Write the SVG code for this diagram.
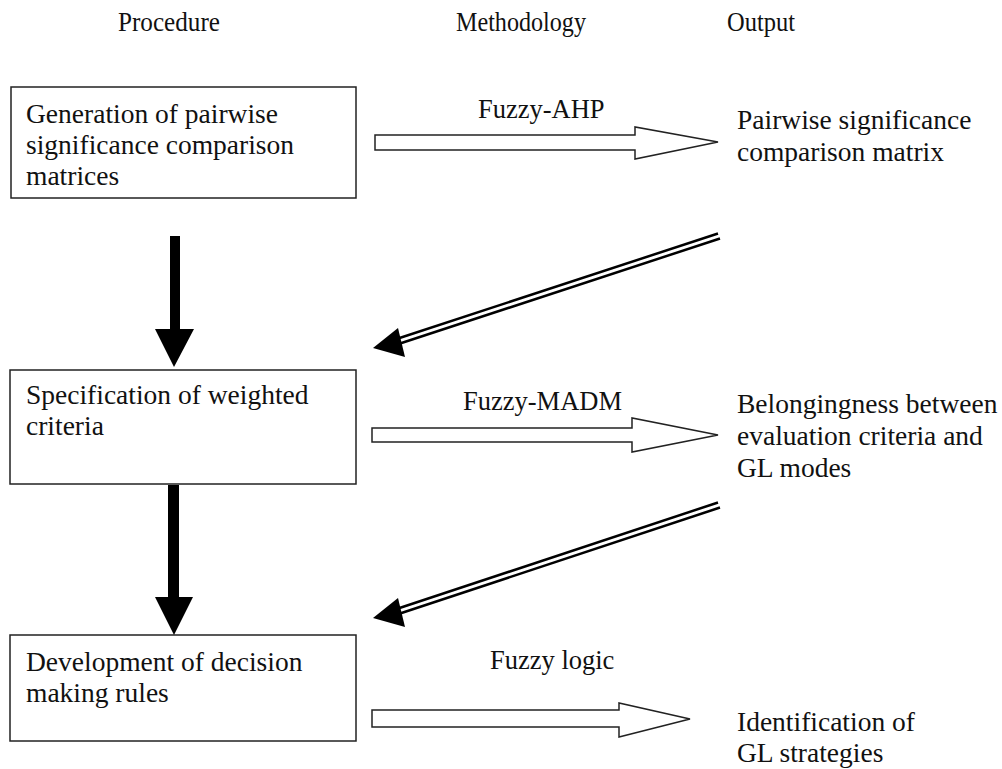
<svg xmlns="http://www.w3.org/2000/svg" width="1002" height="769" viewBox="0 0 1002 769">
<style>
text{font-family:'Liberation Serif','DejaVu Serif',serif;font-size:27.5px;fill:#111}
.hdr{font-size:28px}
.lbl{font-size:26.5px}
.box{fill:#fff;stroke:#222;stroke-width:1.5}
.hollow{fill:#fff;stroke:#222;stroke-width:1.5;stroke-linejoin:miter}
.dbl{fill:none;stroke:#000;stroke-width:2.5}
.solid{fill:#000;stroke:none}
</style>
<rect width="1002" height="769" fill="#fff"/>
<g id="headers">
<text class="hdr" x="118" y="31" textLength="102" lengthAdjust="spacingAndGlyphs">Procedure</text>
<text class="hdr" x="456" y="31" textLength="130" lengthAdjust="spacingAndGlyphs">Methodology</text>
<text class="hdr" x="727" y="31" textLength="68" lengthAdjust="spacingAndGlyphs">Output</text>
</g>
<g id="node1">
<rect class="box" x="11" y="87" width="345" height="111"/>
<text x="26" y="123">Generation of pairwise</text>
<text x="26" y="154">significance comparison</text>
<text x="26" y="185">matrices</text>
</g>
<g id="node2">
<rect class="box" x="10" y="370" width="346" height="114"/>
<text x="26" y="404">Specification of weighted</text>
<text x="26" y="435">criteria</text>
</g>
<g id="node3">
<rect class="box" x="10" y="635" width="346" height="106"/>
<text x="26" y="671">Development of decision</text>
<text x="26" y="702">making rules</text>
</g>
<g id="out1">
<text x="737" y="129">Pairwise significance</text>
<text x="737" y="161">comparison matrix</text>
</g>
<g id="out2">
<text x="737" y="413">Belongingness between</text>
<text x="737" y="445">evaluation criteria and</text>
<text x="737" y="477">GL modes</text>
</g>
<g id="out3">
<text x="737" y="731">Identification of</text>
<text x="737" y="762">GL strategies</text>
</g>
<g id="connectors">
<polygon class="hollow" points="375,135 635,135 635,127 718,142 635,159 635,150 375,150"/>
<text class="lbl" x="478" y="118">Fuzzy-AHP</text>
<polygon class="hollow" points="372,428 632,428 632,418 718,435 632,452 632,442 372,442"/>
<text class="lbl" x="463" y="410">Fuzzy-MADM</text>
<polygon class="hollow" points="372,710 619,710 619,703 690,719 619,737 619,727 372,727"/>
<text class="lbl" x="490" y="669">Fuzzy logic</text>
<polygon class="solid" points="170,236 180,236 180,329 194,329 174,367 155,329 170,329"/>
<polygon class="solid" points="168,485 179,485 179,597 193,597 174,635 155,597 168,597"/>
<g>
<line class="dbl" x1="718" y1="233.5" x2="398" y2="338.5"/>
<line class="dbl" x1="720" y1="238.5" x2="400" y2="343.5"/>
<polygon class="solid" points="373,348 398,328 405,357"/>
</g>
<g>
<line class="dbl" x1="718" y1="502.5" x2="398" y2="608.5"/>
<line class="dbl" x1="720" y1="507.5" x2="400" y2="613.5"/>
<polygon class="solid" points="373,618 398,598 405,627"/>
</g>
</g>
</svg>
